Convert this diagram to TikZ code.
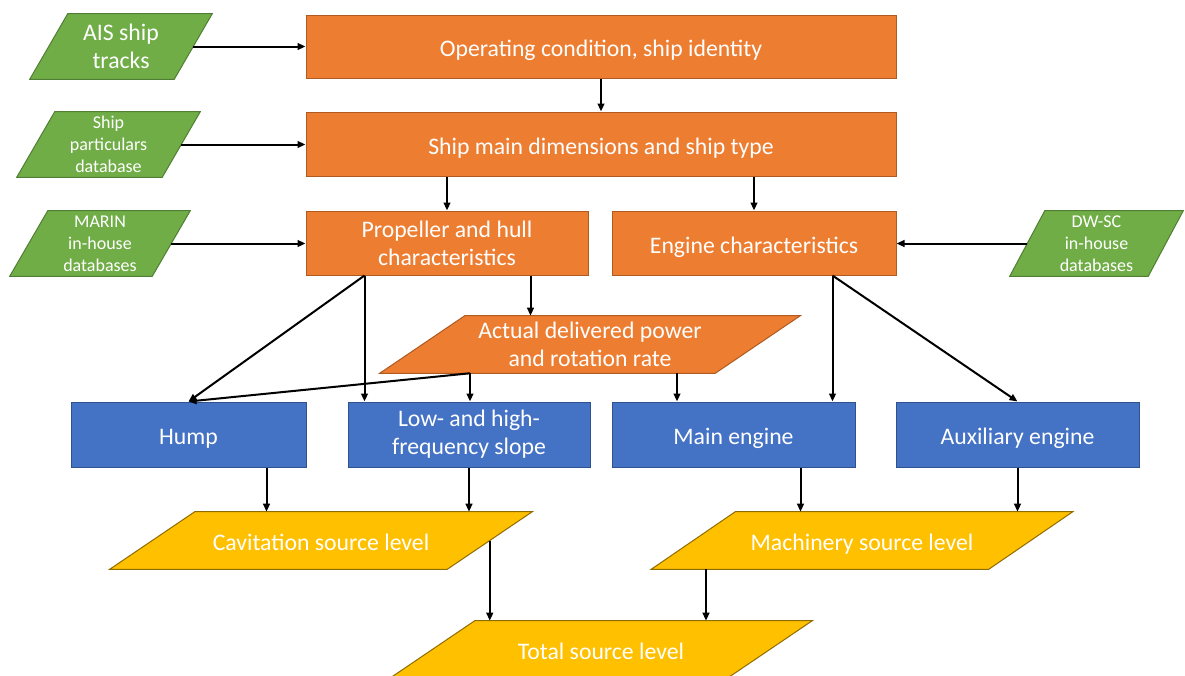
\documentclass[tikz,border=0pt]{standalone}
\usepackage{fontspec}
\setmainfont{Carlito}
\usetikzlibrary{arrows.meta,calc,backgrounds}
\definecolor{orF}{HTML}{ED7D31}
\definecolor{orD}{HTML}{AE5A21}
\definecolor{grF}{HTML}{70AD47}
\definecolor{grD}{HTML}{507E32}
\definecolor{blF}{HTML}{4472C4}
\definecolor{blD}{HTML}{2F528F}
\definecolor{yeF}{HTML}{FFC000}
\definecolor{yeD}{HTML}{8F6B00}
\begin{document}
\begin{tikzpicture}[x=0.75pt,y=-0.75pt,
  bigtxt/.style={font=\fontsize{17.8}{21}\selectfont},
  smalltxt/.style={font=\fontsize{13.5}{16.5}\selectfont},
  oneline/.style={text height=15pt, text depth=0pt},
  box/.style={draw, line width=0.75pt, inner sep=0pt, align=center, text=white, bigtxt},
  orbox/.style={box, fill=orF, draw=orD},
  blbox/.style={box, fill=blF, draw=blD},
  para/.style={inner sep=0pt, align=center, text=white},
  arr/.style={-{Triangle[length=6pt,width=5pt]}, line width=1.5pt, black}]
\useasboundingbox (0,0) rectangle (1185,675);
\clip (0,0) rectangle (1185,675);

% rectangles
\node[orbox, oneline, minimum width=590*0.75pt, minimum height=63*0.75pt] (op) at (601,46.5) {Operating condition, ship identity};
\node[orbox, oneline, minimum width=590*0.75pt, minimum height=64*0.75pt] (main) at (601,144) {Ship main dimensions and ship type};
\node[orbox, minimum width=282*0.75pt, minimum height=64*0.75pt] (prop) at (447,243) {Propeller and hull\\characteristics};
\node[orbox, oneline, minimum width=284*0.75pt, minimum height=64*0.75pt] (eng) at (754,243) {Engine characteristics};
\node[blbox, oneline, minimum width=235*0.75pt, minimum height=65*0.75pt] (hump) at (188.5,434.5) {Hump};
\node[blbox, minimum width=242*0.75pt, minimum height=65*0.75pt] (low) at (469,434.5) {\rule{0pt}{6pt}Low- and high-\\frequency slope};
\node[blbox, oneline, minimum width=243*0.75pt, minimum height=65*0.75pt] (me) at (733.5,434.5) {Main engine};
\node[blbox, oneline, minimum width=243*0.75pt, minimum height=65*0.75pt] (aux) at (1017.5,434.5) {Auxiliary engine};

% parallelogram nodes (text and anchors)
\node[para, bigtxt, minimum width=144*0.75pt, minimum height=65*0.75pt] (ais) at (121,46.5) {AIS ship\\tracks};
\node[para, smalltxt, minimum width=145*0.75pt, minimum height=65*0.75pt] (part) at (108.5,144.5) {Ship\\particulars\\database};
\node[para, smalltxt, minimum width=142*0.75pt, minimum height=65*0.75pt] (marin) at (100,243.5) {MARIN\\in-house\\databases};
\node[para, smalltxt, minimum width=138*0.75pt, minimum height=65*0.75pt] (dw) at (1096.5,243.5) {DW-SC\\in-house\\databases};
\node[para, bigtxt, minimum width=335*0.75pt, minimum height=57*0.75pt] (act) at (590,344.5) {Actual delivered power\\and rotation rate};
\node[para, bigtxt, oneline, minimum width=337*0.75pt, minimum height=57*0.75pt] (cav) at (321,540.5) {Cavitation source level};
\node[para, bigtxt, oneline, minimum width=337*0.75pt, minimum height=57*0.75pt] (mach) at (862,540.5) {Machinery source level};
\node[para, bigtxt, oneline, minimum width=337*0.75pt, minimum height=57*0.75pt] (tot) at (601,649.5) {Total source level};

\begin{scope}[on background layer]
\foreach \n/\s/\f/\d in {ais/38/grF/grD, part/38/grF/grD, marin/38/grF/grD, dw/35/grF/grD,
  act/85/orF/orD, cav/85/yeF/yeD, mach/84/yeF/yeD, tot/85/yeF/yeD}
  \filldraw[fill=\f, draw=\d, line width=0.75pt]
    ($(\n.north west)+(\s/2,0)$) -- ($(\n.north east)+(\s/2,0)$) --
    ($(\n.south east)-(\s/2,0)$) -- ($(\n.south west)-(\s/2,0)$) -- cycle;
\end{scope}

% connectors
\draw[arr] (ais.east) -- (ais.east -| op.west);
\draw[arr] (part.east) -- (part.east -| main.west);
\draw[arr] (marin.east) -- (marin.east -| prop.west);
\draw[arr] (dw.west) -- (dw.west -| eng.east);
\draw[arr] (op.south) -- (main.north);
\draw[arr] (main.south -| prop.north) -- (prop.north);
\draw[arr] (main.south -| eng.north) -- (eng.north);
\coordinate (pa) at ($(prop.south east)+(-58,0)$);
\draw[arr] (pa) -- (pa |- act.north);
\coordinate (pb) at ($(prop.south west)+(59,0)$);
\draw[arr] (pb) -- (hump.north);
\draw[arr] (pb) -- (pb |- low.north);
\coordinate (aa) at ($(act.south)+(-120,0)$);
\draw[arr] (aa) -- (aa |- low.north);
\draw[arr] (aa) -- (hump.north);
\coordinate (ab) at ($(act.south)+(87,0)$);
\draw[arr] (ab) -- (ab |- me.north);
\coordinate (ea) at ($(eng.south east)+(-64,0)$);
\draw[arr] (ea) -- (ea |- me.north);
\draw[arr] (ea) -- (aux.north);
\coordinate (ha) at ($(hump.south east)+(-40,0)$);
\draw[arr] (ha) -- (ha |- cav.north);
\draw[arr] (low.south) -- (low.south |- cav.north);
\coordinate (ma) at ($(me.south east)+(-55,0)$);
\draw[arr] (ma) -- (ma |- mach.north);
\draw[arr] (aux.south) -- (aux.south |- mach.north);
\draw[arr] (cav.east) -- (cav.east |- tot.north);
\coordinate (mb) at ($(mach.south)+(-156,0)$);
\draw[arr] (mb) -- (mb |- tot.north);
\end{tikzpicture}
\end{document}
